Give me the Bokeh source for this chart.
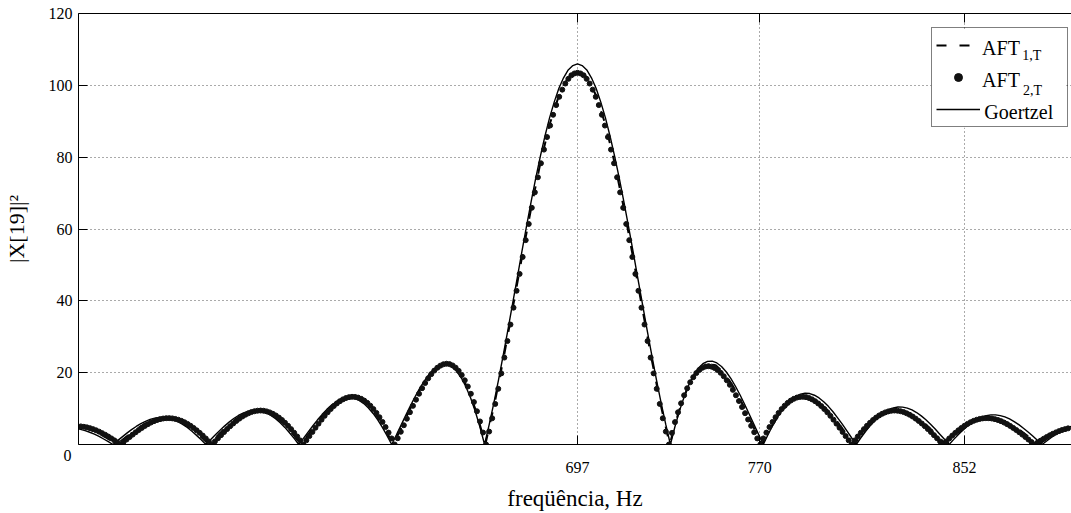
import numpy as np
from bokeh.plotting import figure
from bokeh.models import Range1d, FixedTicker, LinearAxis, Legend, LegendItem
from bokeh.core.properties import value
from bokeh.embed import file_html
from bokeh.resources import INLINE

FONT = "Liberation Serif"

# ---- sampling grids (Hz) ----
AFT2_F0, AFT2_DF = 498.14, 1.22
AFT1_F0, AFT1_DF = 497.74, 3.69
GOE_F0, GOE_DF = 496.12, 1.86

# ---- series values ----
aft2 = [
    5.04, 4.93, 4.77, 4.55, 4.28, 3.95, 3.58, 3.16, 2.71, 2.22, 1.70, 1.15, 0.58, 0.0,
    0.69, 1.39, 2.08, 2.75, 3.41, 4.03, 4.62, 5.17, 5.67, 6.11, 6.50, 6.81, 7.06, 7.23, 7.32,
    7.34, 7.27, 7.12, 6.89, 6.58, 6.20, 5.74, 5.21, 4.61, 3.95, 3.24, 2.48, 1.68, 0.85, 0.0,
    0.87, 1.74, 2.61, 3.47, 4.30, 5.10, 5.85, 6.56, 7.20, 7.78, 8.28, 8.70, 9.04, 9.27, 9.41,
    9.45, 9.39, 9.22, 8.94, 8.56, 8.08, 7.49, 6.82, 6.05, 5.20, 4.28, 3.28, 2.23, 1.14, 0.0,
    1.16, 2.34, 3.51, 4.67, 5.81, 6.92, 7.97, 8.96, 9.87, 10.70, 11.43, 12.05, 12.56, 12.93, 13.18,
    13.28, 13.24, 13.06, 12.72, 12.23, 11.59, 10.80, 9.87, 8.80, 7.60, 6.28, 4.85, 3.31, 1.69, 0.0,
    1.75, 3.54, 5.36, 7.18, 8.99, 10.76, 12.48, 14.13, 15.68, 17.12, 18.43, 19.59, 20.57, 21.37, 21.96,
    22.34, 22.48, 22.38, 22.02, 21.40, 20.50, 19.33, 17.87, 16.14, 14.12, 11.82, 9.25, 6.42, 3.33, 0.0,
    3.6, 7.3, 11.3, 15.5, 19.8, 24.2, 28.8, 33.4, 38.1, 42.8, 47.5, 52.2, 56.9, 61.4, 65.9,
    70.2, 74.4, 78.3, 82.1, 85.6, 88.8, 91.8, 94.5, 96.8, 98.8, 100.5, 101.8, 102.8, 103.3,
    103.5,
    103.3, 102.8, 101.8, 100.5, 98.8, 96.8, 94.5, 91.8, 88.8, 85.6, 82.1, 78.3, 74.4, 70.2, 65.9,
    61.4, 56.9, 52.2, 47.5, 42.8, 38.1, 33.4, 28.8, 24.2, 19.8, 15.5, 11.3, 7.3, 3.6, 0.0,
    3.23, 6.23, 8.97, 11.47, 13.70, 15.66, 17.33, 18.75, 19.89, 20.76, 21.36, 21.71, 21.81, 21.67, 21.30,
    20.73, 19.95, 19.00, 17.88, 16.61, 15.21, 13.71, 12.11, 10.44, 8.72, 6.96, 5.20, 3.43, 1.70, 0.0,
    1.69, 3.31, 4.85, 6.28, 7.60, 8.80, 9.87, 10.80, 11.59, 12.23, 12.72, 13.06, 13.24, 13.28, 13.18,
    12.93, 12.56, 12.05, 11.43, 10.70, 9.87, 8.96, 7.97, 6.92, 5.81, 4.67, 3.51, 2.34, 1.16, 0.0,
    1.14, 2.23, 3.28, 4.28, 5.20, 6.05, 6.82, 7.49, 8.08, 8.56, 8.94, 9.22, 9.39, 9.45, 9.41,
    9.27, 9.04, 8.70, 8.28, 7.78, 7.20, 6.56, 5.85, 5.10, 4.30, 3.47, 2.61, 1.74, 0.87, 0.0,
    0.85, 1.68, 2.48, 3.24, 3.95, 4.61, 5.21, 5.74, 6.20, 6.58, 6.89, 7.12, 7.27, 7.34, 7.32,
    7.23, 7.06, 6.81, 6.50, 6.11, 5.67, 5.17, 4.62, 4.03, 3.41, 2.75, 2.08, 1.39, 0.69, 0.0,
    0.54, 1.08, 1.60, 2.09, 2.55, 2.98, 3.37, 3.72, 4.02, 4.28, 4.49,
]

aft1 = [
    4.96, 4.29, 3.18, 1.71, 0.0,
    2.09, 4.05, 5.70, 6.84, 7.36, 7.15, 6.23, 4.63, 2.50, 0.0,
    2.62, 5.12, 7.24, 8.74, 9.46, 9.26, 8.12, 6.08, 3.30, 0.0,
    3.53, 6.95, 9.92, 12.11, 13.24, 13.12, 11.64, 8.85, 4.87, 0.0,
    5.38, 10.81, 15.75, 19.68, 22.07, 22.49, 20.60, 16.22, 9.30, 0.0,
    11.4, 24.3, 38.3, 52.5, 66.2, 78.7, 89.3, 97.3, 102.3, 104.0,
    102.3, 97.3, 89.3, 78.7, 66.2, 52.5, 38.3, 24.3, 11.4, 0.0,
    9.30, 16.22, 20.60, 22.49, 22.07, 19.68, 15.75, 10.81, 5.38, 0.0,
    4.87, 8.85, 11.64, 13.12, 13.24, 12.11, 9.92, 6.95, 3.53, 0.0,
    3.30, 6.08, 8.12, 9.26, 9.46, 8.74, 7.24, 5.12, 2.62, 0.0,
    2.50, 4.63, 6.23, 7.15, 7.36, 6.84, 5.70, 4.05, 2.09, 0.0,
    1.71, 3.18, 4.29, 4.96,
]

goertzel = [
    4.46, 4.22, 3.86, 3.41, 2.86, 2.23, 1.53, 0.78, 0.0,
    1.07, 2.13, 3.16, 4.13, 5.02, 5.81, 6.46, 6.98, 7.32, 7.50, 7.49, 7.29, 6.91, 6.35, 5.61, 4.72, 3.69, 2.54, 1.30, 0.0,
    1.31, 2.62, 3.90, 5.12, 6.23, 7.23, 8.08, 8.73, 9.20, 9.45, 9.47, 9.25, 8.79, 8.10, 7.19, 6.08, 4.76, 3.29, 1.70, 0.0,
    1.72, 3.45, 5.16, 6.80, 8.33, 9.71, 10.89, 11.85, 12.55, 12.96, 13.06, 12.84, 12.28, 11.40, 10.18, 8.65, 6.84, 4.76, 2.47, 0.0,
    2.63, 5.33, 8.03, 10.69, 13.22, 15.58, 17.67, 19.46, 20.86, 21.82, 22.29, 22.23, 21.60, 20.37, 18.52, 16.03, 12.92, 9.20, 4.87, 0.0,
    5.6, 11.6, 18.0, 24.8, 31.8, 39.0, 46.2, 53.5, 60.6, 67.5, 74.1, 80.2, 85.9, 91.0, 95.4, 99.2, 102.1, 104.3, 105.5, 106.0,
    105.5, 104.3, 102.1, 99.2, 95.4, 91.0, 85.9, 80.2, 74.1, 67.5, 60.6, 53.5, 46.2, 39.0, 31.8, 24.8, 18.0, 11.6, 5.6, 0.0,
    5.07, 9.57, 13.45, 16.70, 19.28, 21.21, 22.49, 23.15, 23.21, 22.71, 21.72, 20.26, 18.40, 16.22, 13.77, 11.13, 8.36, 5.54, 2.74, 0.0,
    2.70, 5.21, 7.49, 9.46, 11.13, 12.46, 13.43, 14.04, 14.28, 14.18, 13.72, 12.96, 11.91, 10.62, 9.11, 7.43, 5.65, 3.77, 1.88, 0.0,
    1.87, 3.63, 5.25, 6.70, 7.93, 8.93, 9.69, 10.20, 10.43, 10.41, 10.14, 9.62, 8.90, 7.97, 6.87, 5.64, 4.30, 2.88, 1.45, 0.0,
    1.43, 2.79, 4.06, 5.19, 6.17, 6.99, 7.60, 8.02, 8.24, 8.25, 8.05, 7.68, 7.11, 6.39, 5.52, 4.54, 3.48, 2.34, 1.18, 0.0,
    0.99, 1.94, 2.82, 3.62, 4.31, 4.89, 5.34,
]

x_ticks = [697, 770, 852]
y_ticks = [0, 20, 40, 60, 80, 100, 120]
x_label = "freqüência, Hz"
y_label = "|X[19]|²"
legend_names = ["AFT", "AFT", "Goertzel"]
legend_subs = ["1,T", "2,T"]

f_aft2 = AFT2_F0 + AFT2_DF * np.arange(len(aft2))
f_aft1 = AFT1_F0 + AFT1_DF * np.arange(len(aft1))
f_goe = GOE_F0 + GOE_DF * np.arange(len(goertzel))

X0, X1 = 497.2, 894.8
p = figure(width=1071, height=513, x_range=Range1d(X0, X1), y_range=Range1d(0, 120),
           output_backend="svg", toolbar_location=None,
           min_border_left=78, min_border_right=0, min_border_top=13, min_border_bottom=69,
           outline_line_color=None, background_fill_color="white", border_fill_color="white")

# axes
xa = p.xaxis[0]
ya = p.yaxis[0]
xa.ticker = FixedTicker(ticks=x_ticks)
ya.ticker = FixedTicker(ticks=y_ticks)
ya.major_label_overrides = {0: " "}
for ax in (xa, ya):
    ax.major_tick_in = 9
    ax.major_tick_out = 0
    ax.minor_tick_line_color = None
    ax.axis_line_color = "black"
    ax.major_tick_line_color = "black"
    ax.major_label_text_font = FONT
    ax.major_label_text_font_size = "16px"
    ax.major_label_text_color = "black"
    ax.axis_label_text_font = FONT
    ax.axis_label_text_font_style = "normal"
    ax.axis_label_text_color = "black"
xa.major_label_standoff = 17
xa.axis_label = x_label
xa.axis_label_text_font_size = "23px"
xa.axis_label_standoff = 10
ya.major_label_standoff = 6
ya.axis_label = y_label
ya.axis_label_text_font_size = "22px"
ya.axis_label_standoff = 17

top = LinearAxis(ticker=FixedTicker(ticks=x_ticks), major_tick_in=9, major_tick_out=0,
                 minor_tick_line_color=None, major_label_overrides={697: " ", 770: " ", 852: " "},
                 major_label_text_font_size="4px",
                 major_label_standoff=0, axis_line_color="black", major_tick_line_color="black")
p.add_layout(top, "above")

# grid
for g in (p.xgrid, p.ygrid):
    g.grid_line_color = "#555555"
    g.grid_line_dash = "1 3"
    g.grid_line_width = 1

# data
r_goe = p.line(f_goe, goertzel, line_color="black", line_width=1.4)
r_a1 = p.line(f_aft1, aft1, line_color="black", line_width=2, line_dash="10 13")
r_a2 = p.scatter(f_aft2, aft2, marker="circle", size=5, fill_color="#111111", line_color="#111111")

# legend background (white box that hides the grid behind the legend)
LEG_LEFT, LEG_RIGHT, LEG_TOP, LEG_BOTTOM = 838.62, 892.68, 115.46, 88.18
p.quad(left=[LEG_LEFT], right=[LEG_RIGHT], top=[LEG_TOP], bottom=[LEG_BOTTOM],
       fill_color="white", line_color=None, level="overlay")

# legend texts (with subscripts)
p.text(x=[859.0, 859.0, 859.9], y=[110.5, 101.5, 92.6], text=legend_names,
       text_font=value(FONT), text_font_size=value("20px"), text_color="black",
       text_align="left", text_baseline="alphabetic", level="overlay")
p.text(x=[875.1, 875.4], y=[108.4, 98.7], text=legend_subs,
       text_font=value(FONT), text_font_size=value("14px"), text_color="black",
       text_align="left", text_baseline="alphabetic", level="overlay")

# legend frame and samples (transparent background, drawn on top)
legend = Legend(items=[LegendItem(label=" ", renderers=[r_a1]),
                       LegendItem(label=" ", renderers=[r_a2]),
                       LegendItem(label=" ", renderers=[r_goe])],
                location=(852.7, 316.7), orientation="vertical",
                padding=4, spacing=6, margin=0,
                glyph_width=44, glyph_height=20, label_standoff=4,
                label_height=26, label_width=79,
                label_text_font=FONT, label_text_font_size="20px",
                label_text_color="black",
                border_line_color="black", border_line_width=1,
                background_fill_color="white", background_fill_alpha=0.0)
p.add_layout(legend)

# y tick label "0", set slightly below the axis as in the original
p.text(x=[494.4], y=[-1.6], text=["0"],
       text_font=value(FONT), text_font_size=value("16px"), text_color="black",
       text_align="right", text_baseline="top", level="overlay")

open("out.html", "w").write(file_html(p, INLINE))
